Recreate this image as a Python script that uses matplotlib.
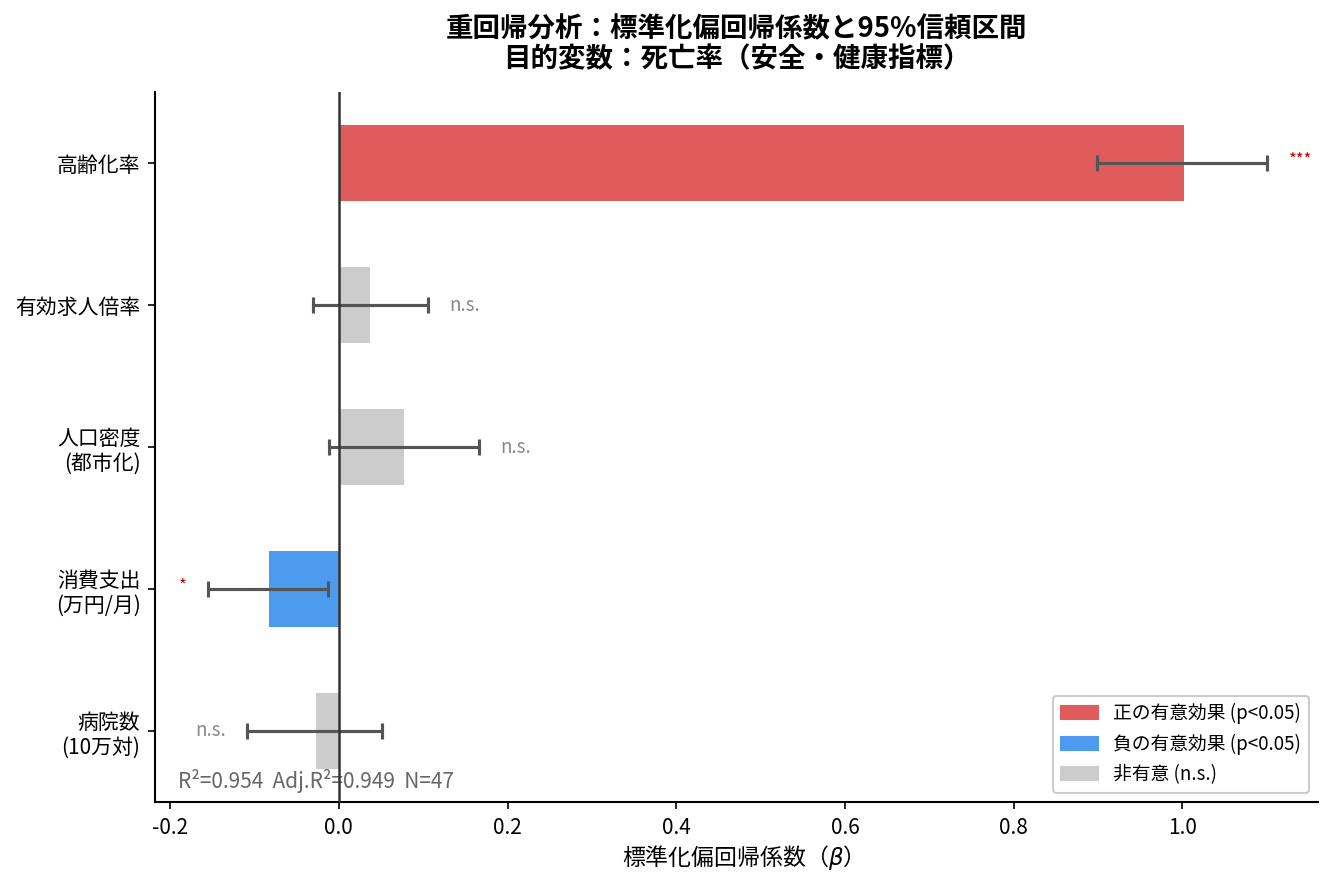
import matplotlib
matplotlib.use("Agg")
import matplotlib.pyplot as plt
from matplotlib.patches import Patch

plt.rcParams['font.family'] = ['Noto Sans CJK JP', 'DejaVu Sans']

categories = ['高齢化率', '有効求人倍率', '人口密度\n(都市化)', '消費支出\n(万円/月)', '病院数\n(10万対)']
beta = [1.002, 0.037, 0.077, -0.083, -0.027]
ci_low = [0.899, -0.031, -0.012, -0.155, -0.109]
ci_high = [1.101, 0.106, 0.166, -0.013, 0.051]
sig = ['***', 'n.s.', 'n.s.', '*', 'n.s.']
stats_text = 'R²=0.954  Adj.R²=0.949  N=47'

c_pos = '#E05C5C'
c_neg = '#4C9BEF'
c_ns = '#CCCCCC'

fig = plt.figure(figsize=(8.9, 5.9), dpi=150)
ax = fig.add_axes([0.1161, 0.0938, 0.8712, 0.8022])

ypos = list(range(len(categories)))
colors = []
for b, s in zip(beta, sig):
    if s == 'n.s.':
        colors.append(c_ns)
    elif b > 0:
        colors.append(c_pos)
    else:
        colors.append(c_neg)

ax.barh(ypos, beta, height=0.54, color=colors, zorder=2)
xerr = [[b - l for b, l in zip(beta, ci_low)], [h - b for b, h in zip(beta, ci_high)]]
ax.errorbar(beta, ypos, xerr=xerr, fmt='none', ecolor='#555555', elinewidth=1.5,
            capsize=4, capthick=1.5, zorder=3)
ax.axvline(0, color='#333333', lw=1.2, zorder=4)

off = 0.025
for y, b, l, h, s in zip(ypos, beta, ci_low, ci_high, sig):
    if b >= 0:
        x, ha = h + off, 'left'
    else:
        x, ha = l - off, 'right'
    if s == 'n.s.':
        ax.text(x, y, s, ha=ha, va='center', fontsize=9, color='#888888', zorder=5)
    else:
        ax.text(x, y - 0.02, s, ha=ha, va='center', fontsize=8, color='#CC0000', zorder=5)

ax.text(0.02, 0.012, stats_text, transform=ax.transAxes, fontsize=10,
        color='#666666', ha='left', va='bottom', zorder=3)

ax.set_yticks(ypos)
ax.set_yticklabels(categories, fontsize=10)
ax.set_ylim(4.5, -0.5)
ax.set_xlim(-0.218, 1.161)
ax.set_xticks([-0.2, 0.0, 0.2, 0.4, 0.6, 0.8, 1.0])
ax.set_xticklabels(['-0.2', '0.0', '0.2', '0.4', '0.6', '0.8', '1.0'])
ax.tick_params(axis='x', labelsize=10)
ax.set_xlabel('標準化偏回帰係数（$\\beta$）', fontsize=11, labelpad=2)
ax.spines['top'].set_visible(False)
ax.spines['right'].set_visible(False)
for sp in ['left', 'bottom']:
    ax.spines[sp].set_linewidth(1.0)

ax.set_title('重回帰分析：標準化偏回帰係数と95%信頼区間\n目的変数：死亡率（安全・健康指標）',
             fontsize=13.2, fontweight='bold', pad=12, linespacing=1.1)

handles = [Patch(color=c_pos, label='正の有意効果 (p<0.05)'),
           Patch(color=c_neg, label='負の有意効果 (p<0.05)'),
           Patch(color=c_ns, label='非有意 (n.s.)')]
ax.legend(handles=handles, loc='lower right', fontsize=9, framealpha=1,
          edgecolor='#CCCCCC')

fig.savefig('out.png', dpi=150)
